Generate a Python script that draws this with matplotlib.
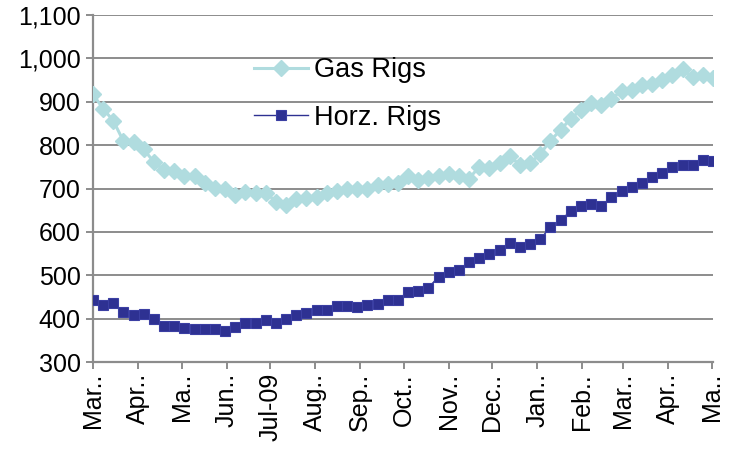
import matplotlib
matplotlib.use("Agg")
import matplotlib.pyplot as plt
import pandas as pd

plt.rcParams['font.family'] = ['Liberation Sans', 'DejaVu Sans']

start_date = "2009-03-06"
n_weeks = 62
gas_rigs = [917, 884, 856, 809, 808, 790, 761, 742, 741, 729,
            729, 712, 702, 700, 685, 692, 689, 690, 670, 663,
            675, 677, 681, 689, 694, 698, 700, 698, 708, 710,
            713, 729, 719, 725, 729, 733, 729, 723, 750, 748,
            758, 775, 754, 758, 780, 810, 835, 861, 881, 896,
            892, 907, 925, 927, 938, 942, 950, 961, 975, 957,
            961, 954]
horz_rigs = [444, 431, 437, 415, 408, 410, 398, 384, 384, 379,
             377, 375, 375, 371, 381, 391, 390, 397, 389, 398,
             409, 412, 421, 420, 429, 430, 426, 431, 433, 443,
             444, 462, 464, 471, 497, 507, 511, 531, 539, 548,
             558, 574, 564, 571, 583, 611, 627, 648, 659, 664,
             659, 681, 695, 703, 712, 727, 736, 750, 755, 754,
             765, 764]
tick_labels = ["Mar..", "Apr..", "Ma..", "Jun..", "Jul-09", "Aug..", "Sep..",
               "Oct..", "Nov..", "Dec..", "Jan..", "Feb..", "Mar..", "Apr..", "Ma.."]
y_ticks = [300, 400, 500, 600, 700, 800, 900, 1000, 1100]

dates = pd.date_range(start_date, periods=n_weeks, freq="7D")
tick_dates = [pd.Timestamp(start_date) + pd.DateOffset(months=k) for k in range(len(tick_labels))]

fig = plt.figure(figsize=(7.31, 4.51), dpi=100)
ax = fig.add_axes([93 / 731, 1 - 362 / 451, (713 - 93) / 731, (362 - 15) / 451])

grid_c = "#8c8c8c"
gas_c = "#b0dcdf"
horz_c = "#2e3192"

for y in y_ticks:
    ax.axhline(y, color=grid_c, lw=1.4, zorder=0)

ax.plot(dates, gas_rigs, color=gas_c, lw=2.2, marker="D", markersize=7.8,
        markerfacecolor=gas_c, markeredgecolor=gas_c, label="Gas Rigs", zorder=3)
ax.plot(dates, horz_rigs, color=horz_c, lw=1.0, marker="s", markersize=7.8,
        markerfacecolor=horz_c, markeredgecolor="#3b3fa3", markeredgewidth=0.8,
        label="Horz. Rigs", zorder=4)

ax.set_ylim(300, 1100)
ax.set_xlim(dates[0], dates[-1])
ax.set_yticks(y_ticks)
ax.set_yticklabels([f"{v:,}" for v in y_ticks])
ax.set_xticks(tick_dates)
ax.set_xticklabels(tick_labels, rotation=90, va="top", ha="center")

for s in ["top", "right"]:
    ax.spines[s].set_visible(False)
for s in ["left", "bottom"]:
    ax.spines[s].set_color(grid_c)
    ax.spines[s].set_linewidth(1.6)
ax.tick_params(axis="both", colors=grid_c, labelcolor="black", labelsize=18,
               length=5, width=1.4, direction="out")
ax.tick_params(axis="x", pad=3)
ax.tick_params(axis="y", pad=4)

leg = ax.legend(loc="upper left", bbox_to_anchor=(254 / 731, 1 - 57 / 451),
                bbox_transform=fig.transFigure, frameon=False, fontsize=19.5,
                handlelength=2.0, handletextpad=0.2, labelspacing=0.8,
                borderpad=0, borderaxespad=0)

fig.savefig("out.png", dpi=100)
